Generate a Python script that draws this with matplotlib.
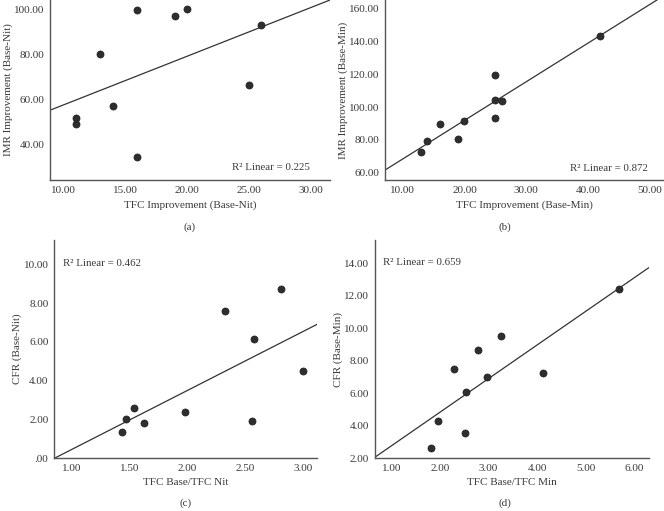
import numpy as np
import matplotlib
matplotlib.use("Agg")
import matplotlib.pyplot as plt

# Datos
x_a = [16, 19, 20, 26, 13, 25, 14, 11, 11, 16]
y_a = [100.0, 97.3, 100.4, 93.2, 80.6, 66.4, 57.3, 52.0, 49.3, 34.5]

x_b = [42, 25, 25, 26, 25, 20, 16, 19, 14, 13]
y_b = [143.5, 119.9, 104.2, 103.6, 93.6, 91.8, 89.5, 80.6, 79.2, 72.6]

x_c = [2.81, 2.32, 2.57, 3.00, 1.54, 1.47, 1.62, 1.43, 1.98, 2.56]
y_c = [8.72, 7.57, 6.13, 4.49, 2.59, 2.02, 1.83, 1.33, 2.37, 1.91]

x_d = [5.67, 3.25, 2.78, 2.29, 2.97, 4.11, 2.54, 1.96, 2.52, 1.81]
y_d = [12.40, 9.54, 8.64, 7.52, 6.98, 7.25, 6.06, 4.28, 3.53, 2.65]

r2_labels = ["0.225", "0.872", "0.462", "0.659"]
x_labels = ["TFC Improvement (Base-Nit)", "TFC Improvement (Base-Min)",
            "TFC Base/TFC Nit", "TFC Base/TFC Min"]
y_labels = ["IMR Improvement (Base-Nit)", "IMR Improvement (Base-Min)",
            "CFR (Base-Nit)", "CFR (Base-Min)"]
panel_tags = ["(a)", "(b)", "(c)", "(d)"]

x_ticks = [[10, 15, 20, 25, 30], [10, 20, 30, 40, 50],
           [1.0, 1.5, 2.0, 2.5, 3.0], [1, 2, 3, 4, 5, 6]]
y_ticks = [[40, 60, 80, 100], [60, 80, 100, 120, 140, 160],
           [0, 2, 4, 6, 8, 10], [2, 4, 6, 8, 10, 12, 14]]

plt.rcParams['font.family'] = ['Liberation Serif', 'DejaVu Serif']

W, H = 664, 511
TXT = '#3a3a3a'
AXC = '#555555'


def fmt(v, pos=None):
    s = f"{v:.2f}"
    if s.startswith("0."):
        s = s[1:]
    return s


def px_box(left, right, top, bottom):
    return [left / W, 1 - bottom / H, (right - left) / W, (bottom - top) / H]


fig = plt.figure(figsize=(W / 100, H / 100), dpi=100)

boxes = [px_box(50, 330, 0, 180), px_box(385.3, 663.5, 0, 180),
         px_box(54, 316.7, 240, 458.3), px_box(374.7, 648.7, 240, 458.3)]
limites = [((8.93, 31.56), (24.4, 104.4)), ((7.19, 52.2), (55.5, 165.5)),
           ((0.847, 3.115), (0.0, 11.25)), ((0.66, 6.29), (2.0, 15.43))]
dados = [(x_a, y_a), (x_b, y_b), (x_c, y_c), (x_d, y_d)]
# posição do texto R2 (coords. do eixo)
r2_pos = [(0.929, 0.072, 'right'), (0.944, 0.065, 'right'),
          (0.033, 0.893, 'left'), (0.030, 0.895, 'left')]
tag_pos = [(190, 227), (505, 227), (186, 503), (505, 503)]

for i in range(4):
    ax = fig.add_axes(boxes[i])
    xs, ys = np.array(dados[i][0], float), np.array(dados[i][1], float)
    (x0, x1), (y0, y1) = limites[i]

    # reta de regressão linear em toda a largura do eixo
    slope, icpt = np.polyfit(xs, ys, 1)
    xl = np.array([x0, x1])
    ax.plot(xl, slope * xl + icpt, color='#333333', lw=0.9, zorder=2)

    ax.scatter(xs, ys, s=26, color='#2e2e2e', edgecolors='#1e1e1e',
               linewidths=0.5, zorder=3)

    ax.set_xlim(x0, x1)
    ax.set_ylim(y0, y1)
    ax.set_xticks(x_ticks[i])
    ax.set_yticks(y_ticks[i])
    ax.xaxis.set_major_formatter(plt.FuncFormatter(fmt))
    ax.yaxis.set_major_formatter(plt.FuncFormatter(fmt))
    ax.tick_params(length=0, labelsize=8, colors=TXT, pad=4)

    for s in ['top', 'right']:
        ax.spines[s].set_visible(False)
    for s in ['left', 'bottom']:
        ax.spines[s].set_color(AXC)
        ax.spines[s].set_linewidth(1.0)

    ax.set_xlabel(x_labels[i], fontsize=8, color=TXT, labelpad=4)
    ax.set_ylabel(y_labels[i], fontsize=8, color=TXT, labelpad=1)

    tx, ty, ha = r2_pos[i]
    ax.text(tx, ty, "R\u00b2 Linear = " + r2_labels[i], transform=ax.transAxes,
            ha=ha, va='center', fontsize=7.8, color=TXT)

    px, py = tag_pos[i]
    fig.text(px / W, 1 - py / H, panel_tags[i], ha='center', va='center',
             fontsize=8, color=TXT)

fig.savefig("out.png", dpi=100, facecolor='white')
